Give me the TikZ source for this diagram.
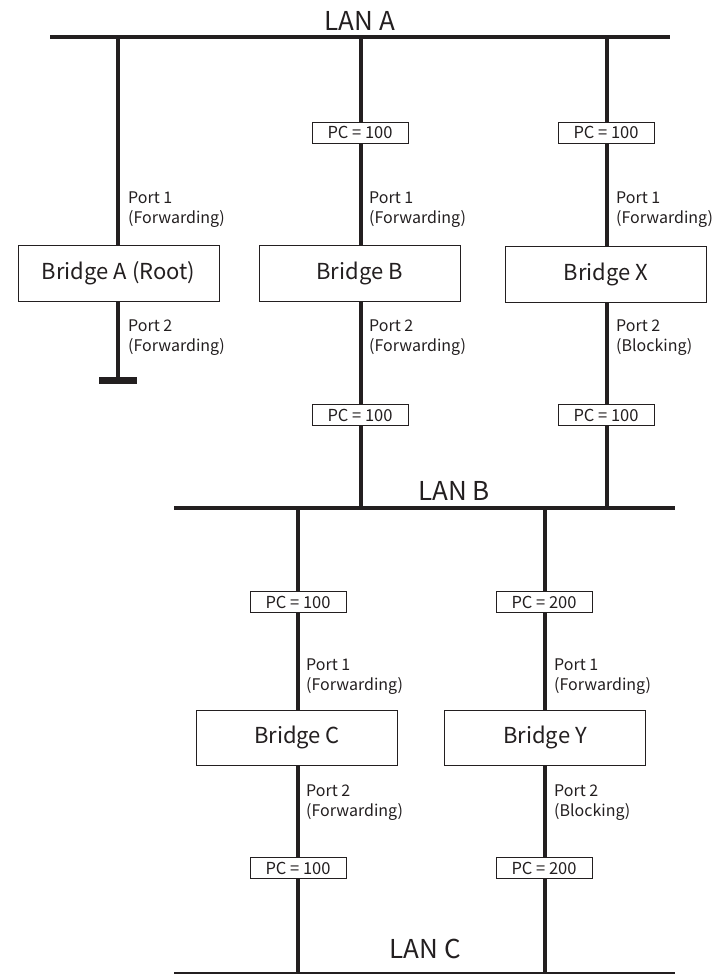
\documentclass[tikz,border=0pt]{standalone}
\usepackage{fontspec}
\setmainfont{Noto Sans CJK JP}
\usetikzlibrary{backgrounds}
\definecolor{ink}{HTML}{231F20}
\tikzset{
  x=1pt, y=-1pt,
  lan/.style={line width=4pt, draw=ink},
  link/.style={line width=4pt, draw=ink},
  bridgebox/.style={draw=ink, line width=0.8pt, fill=white, minimum width=201pt, minimum height=56pt, inner sep=0pt, font=\fontsize{22}{24}\selectfont, text=ink},
  pcbox/.style={draw=ink, line width=0.8pt, fill=white, minimum width=96pt, minimum height=21pt, inner sep=0pt, font=\fontsize{16.5}{18}\selectfont, text=ink},
  portlbl/.style={anchor=west, align=left, inner sep=0pt, font=\fontsize{16}{20}\selectfont, text=ink},
  lanlbl/.style={inner sep=0pt, font=\fontsize{26}{28}\selectfont, text=ink},
}
\begin{document}
\begin{tikzpicture}
\useasboundingbox (0,0) rectangle (722,974);
% LAN labels
\node[lanlbl] (lblA) at (360,21) {LAN A};
\node[lanlbl] (lblB) at (454,491) {LAN B};
\node[lanlbl] (lblC) at (425,949) {LAN C};
% LAN coordinates
\coordinate (lanAw) at (50,37);  \coordinate (lanAe) at (670,37);
\coordinate (lanBw) at (174,508); \coordinate (lanBe) at (675,508);
\coordinate (lanCw) at (174,974); \coordinate (lanCe) at (675,974);
\coordinate (tapA) at (118,37);
\coordinate (tapB) at (361,37);
\coordinate (tapX) at (607,37);
\coordinate (tapB2) at (361,508);
\coordinate (tapX2) at (607,508);
\coordinate (tapC) at (298,508);
\coordinate (tapY) at (545,508);
\coordinate (tapC2) at (298,974);
\coordinate (tapY2) at (545,974);
\coordinate (stubA) at (118,377);
% bridges
\node[bridgebox] (brA) at (118.5,273) {Bridge A (Root)};
\node[bridgebox] (brB) at (359.5,273) {Bridge B};
\node[bridgebox] (brX) at (606,274) {Bridge X};
\node[bridgebox, minimum height=55pt] (brC) at (297,737.5) {Bridge C};
\node[bridgebox, minimum height=55pt] (brY) at (545,737.5) {Bridge Y};
% path costs
\node[pcbox] (pcB1) at (360,132.5) {PC = 100};
\node[pcbox] (pcX1) at (606,132.5) {PC = 100};
\node[pcbox] (pcB2) at (360,415) {PC = 100};
\node[pcbox] (pcX2) at (606,415) {PC = 100};
\node[pcbox] (pcC1) at (298,602) {PC = 100};
\node[pcbox] (pcY1) at (544,602) {PC = 200};
\node[pcbox] (pcC2) at (298,868) {PC = 100};
\node[pcbox] (pcY2) at (544,868) {PC = 200};
% port labels
\node[portlbl] (pA1) at (128,210) {Port 1\\(Forwarding)};
\node[portlbl] (pA2) at (128,338) {Port 2\\(Forwarding)};
\node[portlbl] (pB1) at (369,210) {Port 1\\(Forwarding)};
\node[portlbl] (pB2) at (369,338) {Port 2\\(Forwarding)};
\node[portlbl] (pX1) at (616,210) {Port 1\\(Forwarding)};
\node[portlbl] (pX2) at (616,338) {Port 2\\(Blocking)};
\node[portlbl] (pC1) at (306,677) {Port 1\\(Forwarding)};
\node[portlbl] (pC2) at (306,803) {Port 2\\(Forwarding)};
\node[portlbl] (pY1) at (554,677) {Port 1\\(Forwarding)};
\node[portlbl] (pY2) at (554,803) {Port 2\\(Blocking)};
% stub bar
\node[fill=ink, minimum width=38pt, minimum height=7pt, inner sep=0pt, anchor=north] (barA) at (stubA) {};
\begin{scope}[on background layer]
\draw[lan] (lanAw) -- (lanAe);
\draw[lan] (lanBw) -- (lanBe);
\draw[lan] (lanCw) -- (lanCe);
\draw[link] (tapA) -- (brA.north -| tapA);
\draw[link] (brA.south -| tapA) -- (barA.north);
\draw[link] (tapB) -- (brB.north -| tapB);
\draw[link] (brB.south -| tapB) -- (tapB2);
\draw[link] (tapX) -- (brX.north -| tapX);
\draw[link] (brX.south -| tapX) -- (tapX2);
\draw[link] (tapC) -- (brC.north -| tapC);
\draw[link] (brC.south -| tapC) -- (tapC2);
\draw[link] (tapY) -- (brY.north -| tapY);
\draw[link] (brY.south -| tapY) -- (tapY2);
\end{scope}
\end{tikzpicture}
\end{document}
